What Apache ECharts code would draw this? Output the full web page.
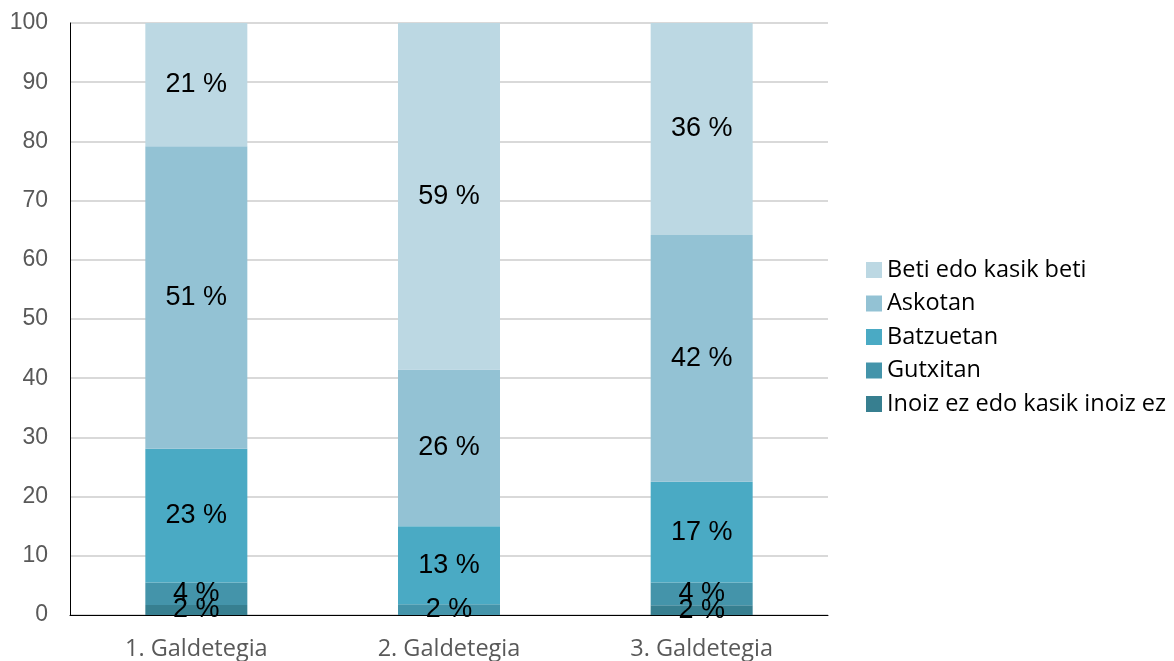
<!DOCTYPE html>
<html>
<head>
<meta charset="utf-8">
<script src="https://cdn.jsdelivr.net/npm/echarts@6/dist/echarts.min.js"></script>
<style>html,body{margin:0;padding:0;background:#fff}#c{width:1174px;height:661px}</style>
</head>
<body>
<div id="c"></div>
<script>
const categories = ['1. Galdetegia', '2. Galdetegia', '3. Galdetegia'];
const seriesNames = ['Inoiz ez edo kasik inoiz ez', 'Gutxitan', 'Batzuetan', 'Askotan', 'Beti edo kasik beti'];
const inoiz = [1.7, 0, 1.65];
const gutxitan = [3.8, 1.8, 3.85];
const batzuetan = [22.6, 13.2, 17.0];
const askotan = [51.1, 26.45, 41.7];
const beti = [20.8, 58.55, 35.8];
const yTicks = [0, 10, 20, 30, 40, 50, 60, 70, 80, 90, 100];
const colors = ['#377f90', '#4494aa', '#4aaac4', '#93c2d4', '#bcd8e3'];

const data = [inoiz, gutxitan, batzuetan, askotan, beti];
const chart = echarts.init(document.getElementById('c'));
chart.setOption({
  animation: false,
  grid: { left: 70, right: 346, top: 23, bottom: 44.5 },
  xAxis: {
    type: 'category', data: categories,
    axisLine: { lineStyle: { color: '#000', width: 1 } },
    axisTick: { show: false },
    axisLabel: { color: '#595959', fontSize: 23.5, fontFamily: 'Open Sans', margin: 22 }
  },
  yAxis: {
    type: 'value', min: yTicks[0], max: yTicks[yTicks.length - 1], interval: 10,
    axisLine: { show: true, lineStyle: { color: '#000', width: 1 } },
    axisTick: { show: false },
    splitLine: { lineStyle: { color: '#d9d9d9', width: 2 } },
    axisLabel: { color: '#595959', fontSize: 23, fontFamily: 'Liberation Sans', margin: 22 }
  },
  legend: {
    orient: 'vertical', left: 861, top: 253,
    data: seriesNames.slice().reverse(),
    icon: 'rect', itemWidth: 16, itemHeight: 16, itemGap: 9.5,
    textStyle: { color: '#000', fontSize: 23.5, fontFamily: 'Open Sans', lineHeight: 24 }
  },
  series: seriesNames.map((n, i) => ({
    name: n, type: 'bar', stack: 'total', barWidth: 102,
    data: data[i],
    itemStyle: { color: colors[i] },
    label: {
      show: true, position: 'inside', color: '#000', fontSize: 27, fontFamily: 'Liberation Sans',
      formatter: p => p.value > 0 ? Math.round(p.value) + ' %' : ''
    }
  }))
});
</script>
</body>
</html>
